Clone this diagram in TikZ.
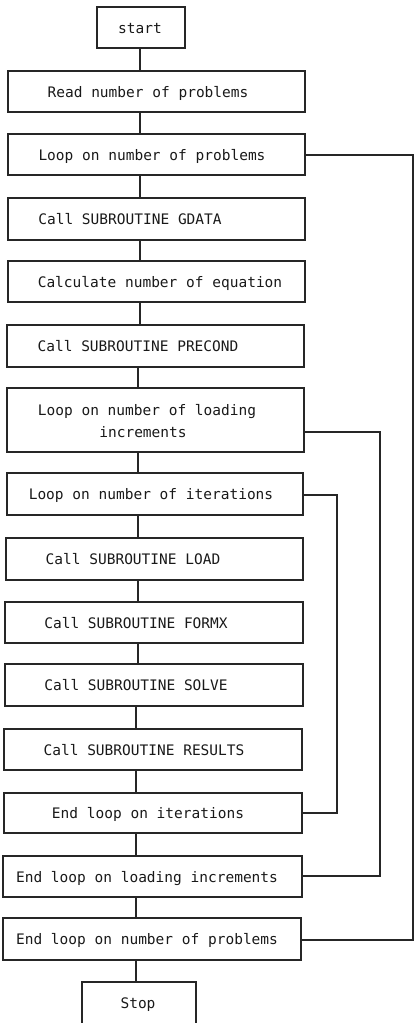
\documentclass[tikz,border=0pt]{standalone}
\usepackage{fontspec}
\newfontfamily\flowmono{DejaVu Sans Mono}
\begin{document}
\begin{tikzpicture}[x=1pt,y=-1pt,
  line width=1.1pt,
  box/.style={draw=black!85, inner sep=0pt, line width=1.1pt},
  txt/.style={inner sep=0pt, anchor=base, text=black!90, font=\flowmono\fontsize{14.5}{22}\selectfont},
  conn/.style={draw=black!85, line width=1.1pt}]
\useasboundingbox (0,0) rectangle (414,1023);
\begin{scope}
\clip (0,0) rectangle (414,1023);
% boxes
\node[box, minimum width=88pt,  minimum height=41pt] (start)   at (141,27.5) {};
\node[box, minimum width=297pt, minimum height=41pt] (read)    at (156.5,91.5) {};
\node[box, minimum width=297pt, minimum height=41pt] (loopP)   at (156.5,154.5) {};
\node[box, minimum width=297pt, minimum height=42pt] (gdata)   at (156.5,219) {};
\node[box, minimum width=297pt, minimum height=41pt] (calc)    at (156.5,281.5) {};
\node[box, minimum width=297pt, minimum height=42pt] (precond) at (155.5,346) {};
\node[box, minimum width=297pt, minimum height=64pt] (loopL)   at (155.5,420) {};
\node[box, minimum width=296pt, minimum height=42pt] (loopI)   at (155,494) {};
\node[box, minimum width=297pt, minimum height=42pt] (load)    at (154.5,559) {};
\node[box, minimum width=298pt, minimum height=41pt] (formx)   at (154,622.5) {};
\node[box, minimum width=298pt, minimum height=42pt] (solve)   at (154,685) {};
\node[box, minimum width=298pt, minimum height=41pt] (results) at (153,749.5) {};
\node[box, minimum width=298pt, minimum height=40pt] (endI)    at (153,813) {};
\node[box, minimum width=299pt, minimum height=41pt] (endL)    at (152.5,876.5) {};
\node[box, minimum width=298pt, minimum height=42pt] (endP)    at (152,939) {};
\node[box, minimum width=114pt, minimum height=53pt] (stop)    at (139,1008.5) {};
% texts
\node[txt] (tstart)   at (140,33)   {start};
\node[txt] (tread)    at (148,97)   {Read number of problems};
\node[txt] (tloopP)   at (152,160)  {Loop on number of problems};
\node[txt] (tgdata)   at (130,224.5){Call SUBROUTINE GDATA};
\node[txt] (tcalc)    at (160,287)  {Calculate number of equation};
\node[txt] (tprecond) at (138,351.5){Call SUBROUTINE PRECOND};
\node[txt] (tloopL1)  at (147,415)  {Loop on number of loading};
\node[txt] (tloopL2)  at (143,437)  {increments};
\node[txt] (tloopI)   at (151,499.5){Loop on number of iterations};
\node[txt] (tload)    at (133,564.5){Call SUBROUTINE LOAD};
\node[txt] (tformx)   at (136,628)  {Call SUBROUTINE FORMX};
\node[txt] (tsolve)   at (136,690.5){Call SUBROUTINE SOLVE};
\node[txt] (tresults) at (144,755)  {Call SUBROUTINE RESULTS};
\node[txt] (tendI)    at (148,818.5){End loop on iterations};
\node[txt] (tendL)    at (147,882)  {End loop on loading increments};
\node[txt] (tendP)    at (147,944.5){End loop on number of problems};
\node[txt] (tstop)    at (138,1008.5){Stop};
% spine
\coordinate (s1) at (140,0);
\coordinate (s2) at (138,0);
\coordinate (s3) at (136,0);
\draw[conn] (start.south -| s1) -- (read.north -| s1);
\draw[conn] (read.south -| s1) -- (loopP.north -| s1);
\draw[conn] (loopP.south -| s1) -- (gdata.north -| s1);
\draw[conn] (gdata.south -| s1) -- (calc.north -| s1);
\draw[conn] (calc.south -| s1) -- (precond.north -| s1);
\draw[conn] (precond.south -| s2) -- (loopL.north -| s2);
\draw[conn] (loopL.south -| s2) -- (loopI.north -| s2);
\draw[conn] (loopI.south -| s2) -- (load.north -| s2);
\draw[conn] (load.south -| s2) -- (formx.north -| s2);
\draw[conn] (formx.south -| s2) -- (solve.north -| s2);
\draw[conn] (solve.south -| s3) -- (results.north -| s3);
\draw[conn] (results.south -| s3) -- (endI.north -| s3);
\draw[conn] (endI.south -| s3) -- (endL.north -| s3);
\draw[conn] (endL.south -| s3) -- (endP.north -| s3);
\draw[conn] (endP.south -| s3) -- (stop.north -| s3);
% loop returns
\coordinate (yI1) at (0,495);
\coordinate (yI2) at (0,813);
\coordinate (yL1) at (0,432);
\coordinate (yL2) at (0,876);
\coordinate (yP1) at (0,155);
\coordinate (yP2) at (0,940);
\draw[conn] (loopI.east |- yI1) -- (337,495) -- (337,813) -- (endI.east |- yI2);
\draw[conn] (loopL.east |- yL1) -- (380,432) -- (380,876) -- (endL.east |- yL2);
\draw[conn] (loopP.east |- yP1) -- (413,155) -- (413,940) -- (endP.east |- yP2);
\end{scope}
\end{tikzpicture}
\end{document}
